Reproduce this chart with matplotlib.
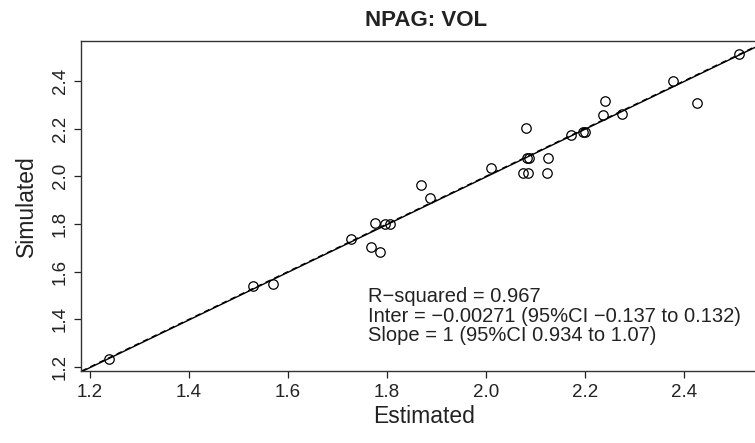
import matplotlib
matplotlib.use("Agg")
import matplotlib.pyplot as plt

# === DATOS ===
estimated = [2.511, 2.378, 2.426, 2.241, 2.236, 2.275, 2.196, 2.200, 2.172,
             2.081, 2.084, 2.088, 2.126, 2.010, 2.075, 2.085, 2.123, 1.869,
             1.888, 1.796, 1.806, 1.786, 1.775, 1.727, 1.768, 1.238, 1.530,
             1.569]
simulated = [2.515, 2.398, 2.308, 2.316, 2.257, 2.260, 2.188, 2.188, 2.172,
             2.202, 2.079, 2.079, 2.079, 2.034, 2.016, 2.012, 2.016, 1.964,
             1.907, 1.802, 1.799, 1.683, 1.806, 1.739, 1.704, 1.232, 1.539,
             1.550]
intercept = -0.00271
slope = 1.0
ticks = [1.2, 1.4, 1.6, 1.8, 2.0, 2.2, 2.4]
stats_text = ("R\u2212squared = 0.967\n"
              "Inter = \u22120.00271 (95%CI \u22120.137 to 0.132)\n"
              "Slope = 1 (95%CI 0.934 to 1.07)")

plt.rcParams['font.family'] = ['Liberation Sans', 'DejaVu Sans']

fig = plt.figure(figsize=(7.55, 4.43), dpi=100)
ax = fig.add_axes([0.1073, 0.1625, 0.9086, 0.745])

ax.plot(estimated, simulated, 'o', mfc='none', mec='black', ms=6.8, mew=0.9)
ax.axline((1.2, 1.2), slope=1, color='black', lw=1.0, ls=(0, (4, 3)))
ax.axline((1.2, intercept + slope * 1.2), slope=slope, color='black', lw=1.0)

ax.set_xlim(1.1818, 2.568)
ax.set_ylim(1.183, 2.568)
ax.set_xticks(ticks)
ax.set_yticks(ticks)
ax.set_xticklabels([f"{t:.1f}" for t in ticks])
ax.set_yticklabels([f"{t:.1f}" for t in ticks], rotation=90, va='center')
ax.tick_params(direction='out', length=5, width=0.9, labelsize=13.5, pad=4,
               colors='#222222', labelcolor='#222222')

for s in ax.spines.values():
    s.set_color('#333333')
    s.set_linewidth(1.0)

ax.set_xlabel("Estimated", fontsize=16.5, color='#222222', labelpad=3)
ax.set_ylabel("Simulated", fontsize=16.5, color='#222222', labelpad=10)
ax.set_title("NPAG: VOL", fontsize=16, fontweight='bold', color='#222222',
             pad=11, x=0.503)

ax.text(1.762, 1.413, stats_text, fontsize=14.5, color='#222222',
        va='center', ha='left', linespacing=1.04)

fig.savefig("out.png", dpi=100)
